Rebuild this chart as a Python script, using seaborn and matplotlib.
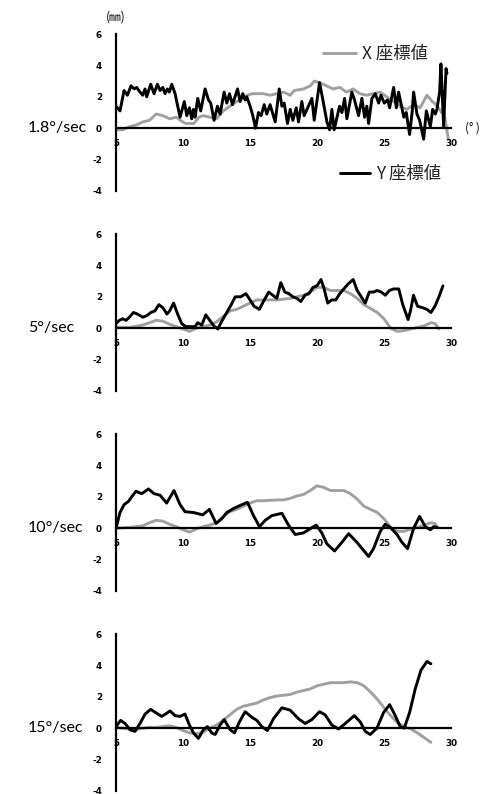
import matplotlib
matplotlib.use("Agg")
import matplotlib.pyplot as plt
import seaborn as sns
import numpy as np

sns.set_style("white")
plt.rcParams['font.family'] = ['Noto Sans CJK JP', 'DejaVu Sans']

# ---------------- data ----------------
speed_labels = ["1.8°/sec", "5°/sec", "10°/sec", "15°/sec"]
x_ticks = [5, 10, 15, 20, 25, 30]
y_ticks = [-4, -2, 0, 2, 4, 6]

# 1.8 deg/sec
p1_x_deg = [5.0, 5.5, 6.0, 6.5, 7.0, 7.5, 8.0, 8.5, 9.0, 9.5, 9.8, 10.2, 10.8, 11.2, 11.5, 12.0,
            12.5, 13.0, 13.5, 14.0, 14.3, 14.8, 15.2, 16.0, 16.5, 17.0, 17.5, 18.0, 18.3, 19.0,
            19.5, 19.8, 20.2, 20.7, 21.2, 21.7, 22.2, 22.7, 23.2, 23.7, 24.2, 24.7, 25.2, 25.7,
            26.2, 26.7, 27.2, 27.7, 28.2, 28.6, 28.9, 29.3, 29.5, 29.8]
p1_x_val = [-0.1, -0.1, 0.1, 0.2, 0.4, 0.5, 0.9, 0.8, 0.6, 0.7, 0.5, 0.3, 0.3, 0.7, 0.8, 0.7,
            0.6, 1.1, 1.4, 1.7, 1.8, 2.1, 2.2, 2.2, 2.1, 2.2, 2.3, 2.1, 2.4, 2.5,
            2.7, 3.0, 2.9, 2.7, 2.5, 2.6, 2.3, 2.5, 2.2, 2.1, 2.2, 2.3, 2.0, 1.7,
            1.4, 1.2, 1.5, 1.3, 2.1, 1.7, 1.5, 1.0, 0.9, -0.7]
p1_y_deg = [5.00, 5.30, 5.60, 5.85, 6.12, 6.37, 6.54, 6.79, 6.99, 7.17, 7.29, 7.59, 7.84, 8.09,
            8.29, 8.49, 8.66, 8.83, 8.98, 9.16, 9.41, 9.58, 9.78, 10.10, 10.28, 10.48, 10.65,
            10.78, 10.90, 11.10, 11.32, 11.65, 11.90, 12.07, 12.32, 12.57, 12.77, 13.07, 13.27,
            13.47, 13.69, 14.07, 14.26, 14.46, 14.64, 14.76, 15.01, 15.21, 15.41, 15.63, 15.83,
            16.06, 16.25, 16.50, 16.88, 17.18, 17.38, 17.55, 17.80, 18.00, 18.20, 18.45, 18.62,
            18.87, 19.04, 19.62, 19.79, 20.19, 20.44, 20.74, 20.94, 21.11, 21.28, 21.68, 21.86,
            22.06, 22.23, 22.60, 22.80, 23.10, 23.35, 23.55, 23.72, 23.85, 24.10, 24.35, 24.60,
            24.77, 25.02, 25.27, 25.42, 25.72, 25.92, 26.09, 26.48, 26.66, 26.91, 27.11, 27.21,
            27.46, 27.66, 27.96, 28.16, 28.46, 28.63, 28.83, 28.95, 29.15, 29.25, 29.45, 29.63, 29.70]
p1_y_val = [1.4, 1.1, 2.4, 2.1, 2.7, 2.5, 2.6, 2.3, 2.1, 2.5, 2.0, 2.8, 2.2, 2.8,
            2.4, 2.6, 2.2, 2.5, 2.3, 2.8, 2.2, 1.5, 0.7, 1.7, 0.8, 1.3, 0.6,
            1.2, 0.7, 1.9, 1.1, 2.5, 1.8, 1.6, 0.5, 1.4, 0.9, 2.3, 1.6,
            2.2, 1.5, 2.5, 1.7, 2.2, 1.8, 2.0, 1.4, 0.8, 0.0, 1.0, 0.8,
            1.5, 0.9, 1.5, 0.4, 2.5, 1.4, 1.6, 0.3, 1.2, 0.5, 1.3, 0.4,
            1.7, 0.8, 1.9, 0.5, 2.9, 1.8, 0.4, -0.1, 1.2, -0.1, 1.4, 1.0,
            1.9, 0.6, 2.3, 1.8, 0.8, 1.9, 0.7, 1.4, 0.3, 1.9, 2.2, 1.6,
            2.1, 1.6, 1.8, 1.3, 2.6, 1.3, 2.3, 0.7, 1.0, -0.4, 1.1, 2.3,
            0.9, 0.5, -0.7, 1.1, 0.1, 1.2, 0.9, 1.2, 2.3, 4.1, 0.1, 3.8, 3.5]

# 5 deg/sec
p2_x_deg = [5.0, 6.0, 7.0, 7.5, 8.0, 8.5, 9.0, 9.5, 10.0, 10.5, 11.0, 11.5, 12.0, 12.5, 13.0,
            13.5, 14.0, 14.5, 15.0, 15.5, 16.0, 17.0, 18.0, 18.5, 19.0, 19.5, 20.0, 20.5, 21.0,
            22.0, 22.5, 23.0, 23.5, 24.0, 24.5, 25.0, 25.5, 26.0, 26.5, 27.0, 27.5, 28.0, 28.5,
            28.8, 29.1]
p2_x_val = [0.05, 0.05, 0.2, 0.35, 0.5, 0.45, 0.25, 0.1, -0.05, -0.2, 0.0, 0.1, 0.2, 0.4, 0.75,
            1.1, 1.2, 1.4, 1.6, 1.8, 1.8, 1.8, 1.9, 2.0, 2.1, 2.3, 2.6, 2.6, 2.4,
            2.4, 2.2, 1.9, 1.5, 1.25, 1.0, 0.6, 0.0, -0.2, -0.15, -0.05, 0.05, 0.15, 0.35,
            0.3, -0.05]
p2_y_deg = [5.0, 5.25, 5.5, 5.75, 6.0, 6.3, 6.6, 7.0, 7.3, 7.6, 7.9, 8.2, 8.5, 8.8, 9.0, 9.3,
            9.6, 9.9, 10.2, 10.6, 10.9, 11.1, 11.4, 11.7, 12.0, 12.3, 12.6, 12.8, 13.2, 13.6,
            13.9, 14.3, 14.7, 15.0, 15.3, 15.7, 16.0, 16.4, 16.7, 17.0, 17.3, 17.6, 17.9, 18.2,
            18.5, 18.8, 19.1, 19.4, 19.7, 20.0, 20.3, 20.5, 20.8, 21.1, 21.4, 21.7, 22.0, 22.3,
            22.7, 23.0, 23.3, 23.6, 23.9, 24.2, 24.5, 24.8, 25.1, 25.4, 25.7, 26.1, 26.4, 26.8,
            27.0, 27.2, 27.5, 27.9, 28.2, 28.5, 28.8, 29.1, 29.4]
p2_y_val = [0.3, 0.5, 0.6, 0.5, 0.7, 1.0, 0.9, 0.7, 0.8, 1.0, 1.1, 1.5, 1.3, 0.9, 1.1, 1.6,
            0.9, 0.3, 0.1, 0.1, 0.1, 0.35, 0.2, 0.85, 0.5, 0.15, -0.05, 0.3, 0.9, 1.5,
            2.0, 2.0, 2.2, 1.8, 1.4, 1.2, 1.7, 2.3, 2.1, 1.9, 2.9, 2.3, 2.2, 2.0,
            1.9, 1.7, 2.1, 2.2, 2.6, 2.7, 3.1, 2.6, 1.6, 1.8, 1.8, 2.2, 2.5, 2.8,
            3.1, 2.4, 2.0, 1.6, 2.3, 2.3, 2.4, 2.3, 2.1, 2.4, 2.5, 2.5, 1.5, 0.55,
            1.2, 2.1, 1.4, 1.3, 1.2, 1.0, 1.4, 2.0, 2.7]

# 10 deg/sec
p3_x_deg = [5.0, 6.0, 7.0, 7.5, 8.0, 8.5, 9.0, 9.5, 10.0, 10.5, 11.0, 11.5, 12.0, 12.5, 13.0,
            13.5, 14.0, 14.5, 15.0, 15.5, 16.0, 17.0, 17.5, 18.0, 18.5, 19.0, 19.5, 20.0, 20.5,
            21.0, 22.0, 22.5, 23.0, 23.5, 24.0, 24.5, 25.0, 25.5, 26.0, 26.5, 27.0, 27.5, 28.0,
            28.5, 28.8, 29.0]
p3_x_val = [0.0, 0.05, 0.15, 0.35, 0.5, 0.45, 0.25, 0.1, -0.1, -0.25, -0.05, 0.1, 0.2, 0.35, 0.75,
            1.05, 1.2, 1.4, 1.6, 1.75, 1.75, 1.8, 1.8, 1.9, 2.05, 2.15, 2.4, 2.7, 2.6,
            2.4, 2.4, 2.2, 1.85, 1.4, 1.2, 1.0, 0.6, 0.05, -0.2, -0.2, -0.05, 0.05, 0.2,
            0.35, 0.3, 0.05]
p3_y_deg = [5.00, 5.30, 5.60, 5.92, 6.17, 6.49, 6.92, 7.42, 7.84, 8.29, 8.78, 9.33, 9.78, 10.15,
            10.78, 11.47, 11.97, 12.47, 12.89, 13.27, 13.76, 14.26, 14.81, 15.26, 15.71, 16.13,
            16.63, 17.38, 17.87, 18.37, 18.99, 19.94, 20.36, 20.74, 21.31, 21.86, 22.36, 22.98,
            23.85, 24.22, 24.72, 25.09, 25.47, 25.97, 26.34, 26.76, 27.21, 27.66, 28.08, 28.46,
            28.71, 28.95]
p3_y_val = [0.0, 1.0, 1.5, 1.7, 2.0, 2.35, 2.2, 2.5, 2.2, 2.1, 1.6, 2.4, 1.5, 1.05,
            1.0, 0.85, 1.2, 0.3, 0.6, 1.0, 1.25, 1.45, 1.65, 0.8, 0.1, 0.5,
            0.8, 0.95, 0.2, -0.4, -0.3, 0.2, -0.3, -1.0, -1.45, -0.9, -0.35, -0.9,
            -1.8, -1.3, -0.2, 0.25, 0.05, -0.4, -0.9, -1.3, 0.0, 0.75, 0.1, -0.1,
            0.1, 0.05]

# 15 deg/sec
p4_x_deg = [5.0, 6.0, 6.5, 7.0, 7.5, 8.0, 8.5, 9.0, 9.5, 10.0, 10.5, 11.0, 11.5, 12.0, 12.5,
            13.0, 13.5, 14.0, 14.5, 15.0, 15.5, 16.0, 16.5, 17.0, 17.5, 18.0, 18.5, 19.0, 19.5,
            20.0, 20.5, 21.0, 21.5, 22.0, 22.5, 23.0, 23.5, 24.0, 24.5, 25.0, 25.5, 26.0, 26.5,
            27.0, 27.5, 28.0, 28.5]
p4_x_val = [0.05, -0.05, -0.1, 0.0, 0.05, 0.05, 0.1, 0.15, 0.05, -0.15, -0.3, -0.35, -0.25, 0.0, 0.2,
            0.5, 0.85, 1.2, 1.4, 1.5, 1.6, 1.8, 1.95, 2.05, 2.1, 2.15, 2.3, 2.4, 2.5,
            2.7, 2.8, 2.9, 2.9, 2.9, 2.95, 2.9, 2.7, 2.3, 1.85, 1.3, 0.8, 0.35, 0.1,
            -0.05, -0.3, -0.6, -0.9]
p4_y_deg = [5.00, 5.35, 5.67, 6.05, 6.42, 6.79, 7.17, 7.59, 8.04, 8.41, 8.78, 9.03, 9.41, 9.78,
            10.15, 10.48, 10.78, 11.15, 11.52, 11.82, 12.15, 12.40, 12.77, 13.07, 13.52, 13.84,
            14.21, 14.64, 15.13, 15.51, 15.88, 16.30, 16.75, 17.38, 18.00, 18.62, 19.12, 19.62,
            20.19, 20.61, 21.11, 21.61, 22.11, 22.78, 23.23, 23.60, 23.97, 24.47, 24.97, 25.42,
            25.84, 26.21, 26.51, 26.91, 27.33, 27.76, 28.21, 28.50]
p4_y_val = [0.1, 0.5, 0.3, -0.1, -0.2, 0.3, 0.9, 1.2, 0.95, 0.75, 0.95, 1.1, 0.8, 0.75,
            0.9, 0.2, -0.3, -0.65, -0.1, 0.1, -0.3, -0.4, 0.2, 0.55, -0.1, -0.3,
            0.4, 1.05, 0.7, 0.5, 0.1, -0.15, 0.6, 1.3, 1.15, 0.6, 0.3, 0.55,
            1.05, 0.85, 0.2, -0.05, 0.3, 0.8, 0.4, -0.2, -0.4, 0.0, 1.0, 1.5,
            0.8, 0.1, 0.0, 1.0, 2.5, 3.7, 4.25, 4.1]

panels = [
    (p1_x_deg, p1_x_val, p1_y_deg, p1_y_val),
    (p2_x_deg, p2_x_val, p2_y_deg, p2_y_val),
    (p3_x_deg, p3_x_val, p3_y_deg, p3_y_val),
    (p4_x_deg, p4_x_val, p4_y_deg, p4_y_val),
]

# ---------------- figure ----------------
W, H = 486, 794
fig = plt.figure(figsize=(W / 100, H / 100), dpi=100)
fig.patch.set_facecolor("white")

GRAY = "#a0a0a0"
BLACK = "#000000"

axes = []
for i, (xd, xv, yd, yv) in enumerate(panels):
    top_px = 34 + 200 * i
    bot_px = 191 + 200 * i
    ax = fig.add_axes([116 / W, 1 - bot_px / H, (451 - 116) / W, (bot_px - top_px) / H])
    ax.set_facecolor("none")
    sns.lineplot(x=xd, y=xv, ax=ax, color=GRAY, lw=2.1, sort=False, estimator=None,
                 label="X 座標値")
    sns.lineplot(x=yd, y=yv, ax=ax, color=BLACK, lw=2.1, sort=False, estimator=None,
                 label="Y 座標値")
    if ax.get_legend() is not None:
        ax.get_legend().remove()
    ax.set_xlim(5, 30)
    ax.set_ylim(-4, 6)
    ax.set_xticks(x_ticks)
    ax.set_yticks(y_ticks)
    ax.set_xticklabels([str(t) for t in x_ticks])
    ax.set_yticklabels([str(t) for t in y_ticks])
    for s in ["top", "right"]:
        ax.spines[s].set_visible(False)
    ax.spines["left"].set_linewidth(1.6)
    ax.spines["left"].set_color(BLACK)
    ax.spines["left"].set_zorder(2)
    ax.spines["bottom"].set_position(("data", 0))
    ax.spines["bottom"].set_linewidth(1.6)
    ax.spines["bottom"].set_color(BLACK)
    ax.xaxis.set_zorder(3)
    ax.tick_params(axis="y", direction="out", length=3, width=1.2, pad=7, colors=BLACK)
    ax.tick_params(axis="x", direction="out", length=3, width=1.2, pad=4.5, colors=BLACK)
    for lab in ax.get_xticklabels() + ax.get_yticklabels():
        lab.set_fontfamily("DejaVu Sans")
        lab.set_fontweight("bold")
        lab.set_fontsize(6.3)
    ax.set_xlabel("")
    ax.set_ylabel("")
    ax.grid(False)
    # speed label
    fig.text(28 / W, 1 - (128 + 200 * i) / H, speed_labels[i], family="Lato",
             fontsize=11.5, ha="left", va="center", color=BLACK)
    axes.append(ax)

# units
fig.text(116 / W, 1 - 17 / H, "(㎜)", fontsize=8.5, ha="center", va="center", color=BLACK)
fig.text(472 / W, 1 - 128 / H, "(° )", fontsize=8.5, ha="center", va="center", color=BLACK)

# legends
lines = axes[0].get_lines()
hx, hy = lines[0], lines[1]
leg1 = fig.legend([hx], ["X 座標値"], loc="center left",
                  bbox_to_anchor=(323 / W, 1 - 54 / H), bbox_transform=fig.transFigure,
                  frameon=False, borderpad=0, borderaxespad=0, handlelength=1.9,
                  handletextpad=0.35, prop={"family": ["Noto Sans CJK JP"], "size": 12.5})
leg2 = fig.legend([hy], ["Y 座標値"], loc="center left",
                  bbox_to_anchor=(340 / W, 1 - 174 / H), bbox_transform=fig.transFigure,
                  frameon=False, borderpad=0, borderaxespad=0, handlelength=1.75,
                  handletextpad=0.35, prop={"family": ["Noto Sans CJK JP"], "size": 12.5})
for leg in (leg1, leg2):
    for t in leg.get_texts():
        t.set_color("#222222")

fig.savefig("out.png", dpi=100, facecolor="white")
